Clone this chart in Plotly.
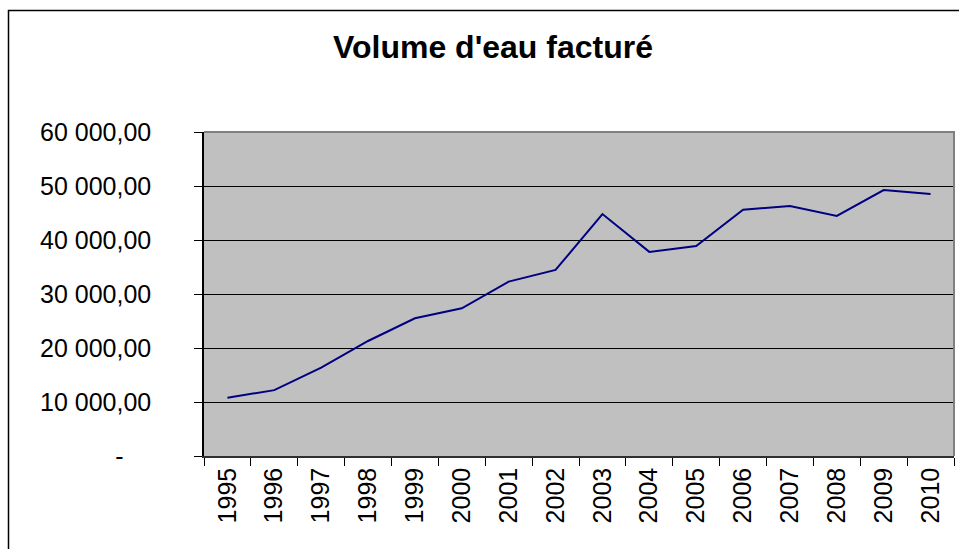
import plotly.graph_objects as go

years = ["1995", "1996", "1997", "1998", "1999", "2000", "2001", "2002",
         "2003", "2004", "2005", "2006", "2007", "2008", "2009", "2010"]
volumes = [10800, 12200, 16350, 21300, 25500, 27350, 32300, 34450,
           44800, 37800, 38900, 45600, 46300, 44450, 49250, 48500]
y_tick_values = [0, 10000, 20000, 30000, 40000, 50000, 60000]
y_tick_labels = ["-\u00a0\u00a0\u00a0\u00a0", "10 000,00", "20 000,00", "30 000,00",
                 "40 000,00", "50 000,00", "60 000,00"]
title_text = "Volume d'eau facturé"

FONT = "Arial, 'Liberation Sans', sans-serif"

fig = go.Figure()
fig.add_trace(go.Scatter(
    x=years, y=volumes, mode="lines",
    line=dict(color="#000080", width=2),
    showlegend=False, hoverinfo="x+y",
))

W, H = 959, 549
L, R, T, B = 204, 5, 132, 93
pw = W - L - R
ph = H - T - B

def px_x(p):
    return (p - L) / pw

def px_y(p):
    return (H - B - p) / ph

fig.update_layout(
    width=W, height=H,
    margin=dict(l=L, r=R, t=T, b=B, pad=0, autoexpand=False),
    paper_bgcolor="white",
    plot_bgcolor="#C0C0C0",
    font=dict(family=FONT, size=25, color="black"),
    title=dict(text=title_text, x=493 / W, xanchor="center",
               y=1 - 47 / H, yanchor="middle",
               font=dict(family=FONT, size=32, color="black", weight="bold")),
    xaxis=dict(
        type="category", tickson="boundaries", ticks="outside",
        range=[-0.5, len(years) - 0.5],
        ticklen=8, tickcolor="black", tickwidth=1,
        tickangle=-90, showgrid=False, showline=True,
        linecolor="#303030", linewidth=1.5, zeroline=False,
        tickfont=dict(size=25), automargin=False,
    ),
    yaxis=dict(
        range=[0, 60000], tickvals=y_tick_values, ticktext=y_tick_labels,
        ticks="outside", ticklen=8, tickcolor="black", tickwidth=1,
        showgrid=True, gridcolor="black", gridwidth=1,
        showline=True, linecolor="black", linewidth=1.5, zeroline=False,
        ticklabelstandoff=38, tickfont=dict(size=25), automargin=False,
    ),
    shapes=[
        # gray plot-area border on top and right
        dict(type="path", xref="paper", yref="paper",
             path="M 0,1 L 1,1 L 1,0",
             line=dict(color="#808080", width=2)),
        # outer chart border
        dict(type="rect", xref="paper", yref="paper",
             x0=px_x(8.5), x1=px_x(975), y0=px_y(570), y1=px_y(10.5),
             line=dict(color="black", width=1.5), layer="above"),
    ],
)

fig.write_html(
    "out.html",
    config={"displayModeBar": False},
    post_script="document.body.style.margin='0';document.body.style.overflow='hidden';",
)
